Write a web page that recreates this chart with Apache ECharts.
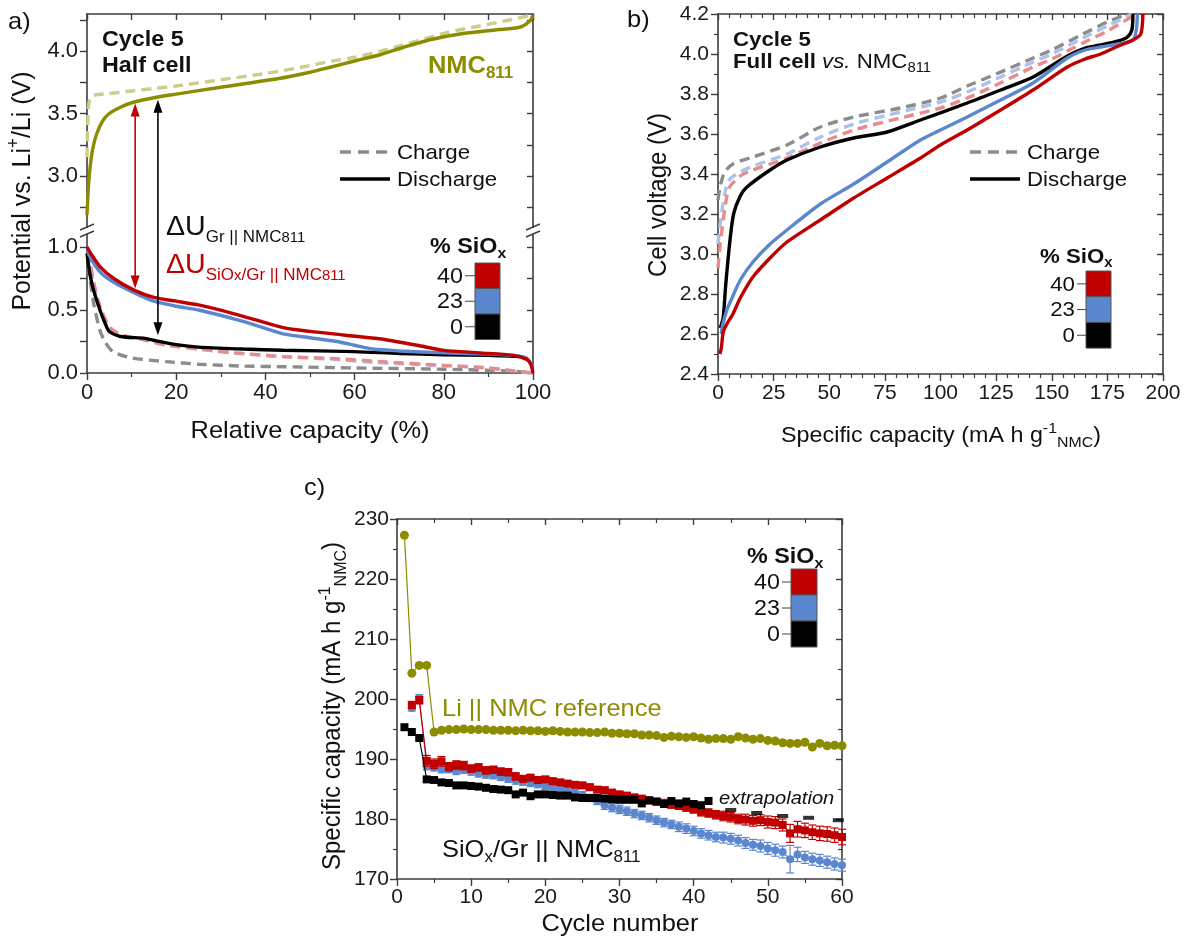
<!DOCTYPE html>
<html>
<head>
<meta charset="utf-8">
<script src="https://cdn.jsdelivr.net/npm/echarts@6.0.0/dist/echarts.min.js"></script>
<style>html,body{margin:0;padding:0;background:#fff}#main{width:1192px;height:942px}</style>
</head>
<body>
<div id="main"></div>
<script>
// ---- panel a: half cell potentials, x = relative capacity (%), y = V vs Li ----
const nmcChargeA = [[0,3.15],[0.3,3.55],[0.8,3.63],[2,3.65],[5,3.66],[10,3.68],[15,3.7],[20,3.72],[30,3.77],[40,3.82],[48,3.87],[55,3.92],[60,3.95],[66,4.0],[70,4.04],[76,4.1],[81,4.15],[88,4.2],[95,4.25],[100,4.29]];
const nmcDischargeA = [[0,2.69],[0.3,2.9],[0.7,3.07],[1.3,3.22],[2.2,3.34],[3.5,3.44],[5,3.5],[7.5,3.55],[10.4,3.59],[15.6,3.63],[20,3.655],[30,3.71],[43,3.78],[50,3.83],[54.5,3.87],[60,3.92],[65.7,3.97],[71,4.03],[76.9,4.09],[84.3,4.14],[91.9,4.17],[97,4.19],[99.3,4.24],[100,4.29]];
const grChargeA = [[0.3,0.85],[1.5,0.55],[2.9,0.34],[4,0.25],[5.8,0.17],[10,0.12],[17.9,0.09],[25,0.07],[35,0.055],[44,0.05],[60,0.04],[80,0.03],[95,0.015],[100,0]];
const sio23ChargeA = [[0.3,0.95],[1.5,0.7],[3,0.5],[4.5,0.38],[5.8,0.32],[8,0.29],[12,0.27],[17,0.24],[25,0.19],[33,0.16],[44,0.13],[55,0.11],[66,0.08],[80,0.06],[90,0.04],[96,0.015],[100,0]];
const sio40ChargeA = [[0.3,0.97],[1.5,0.72],[3,0.52],[4.5,0.4],[5.8,0.34],[8,0.3],[12,0.27],[17.9,0.22],[25,0.19],[33,0.16],[44,0.13],[55,0.115],[66,0.09],[80,0.06],[90,0.04],[96,0.015],[100,0]];
const grDischargeA = [[0,0.95],[0.5,0.82],[1.3,0.68],[2.9,0.5],[4,0.4],[5,0.33],[7.5,0.29],[13,0.275],[15.5,0.255],[20,0.225],[25,0.205],[35,0.19],[44,0.18],[60,0.17],[70,0.155],[80,0.145],[90,0.14],[97,0.13]];
const sio23DischargeA = [[0,0.98],[1,0.9],[3,0.8],[6,0.72],[10.4,0.64],[15,0.57],[20,0.53],[25,0.5],[35,0.41],[44,0.31],[50,0.28],[56,0.25],[60,0.22],[64,0.19],[70,0.175],[80,0.16],[90,0.15],[95.5,0.14],[98.5,0.12],[100,0.05]];
const sio40DischargeA = [[0,1.0],[1,0.94],[3,0.84],[6,0.75],[10.4,0.66],[15,0.6],[20,0.57],[25,0.54],[33,0.47],[44,0.36],[50,0.33],[58,0.3],[66,0.27],[74,0.22],[80,0.18],[88,0.16],[95.5,0.14],[98.5,0.11],[99.5,0.07],[100,0]];
// the two arrows (capacity %, top value in upper part, bottom value in lower part)
const arrowsA = [{x:10.8, top:3.58, bottom:0.67, color:'#c00000'}, {x:15.9, top:3.61, bottom:0.30, color:'#000000'}];
const upperTicksA = [2.75,3,3.25,3.5,3.75,4,4.25];
const upperLabelsA = [3,3.5,4];
const lowerTicksA = [0,0.25,0.5,0.75,1];
const lowerLabelsA = [0,0.5,1];

// ---- panel b: full cell, x = mA h g-1, y = cell voltage ----
const grChargeB = [[0,3.27],[1,3.34],[3,3.41],[6.7,3.45],[15.7,3.485],[31,3.545],[46,3.635],[61,3.685],[82,3.73],[100,3.78],[112,3.84],[125,3.9],[141.6,3.98],[150,4.02],[164,4.1],[175,4.16],[184,4.2]];
const sio23ChargeB = [[0,3.05],[1,3.15],[3,3.3],[5,3.37],[10,3.41],[15.7,3.44],[31,3.5],[46,3.585],[61,3.65],[82,3.71],[100,3.76],[112,3.81],[125,3.875],[141.6,3.96],[150,4.0],[164,4.08],[175,4.14],[186,4.2]];
const sio40ChargeB = [[0,2.93],[1,3.05],[3,3.22],[5,3.33],[10,3.39],[15.7,3.42],[31,3.48],[46,3.555],[61,3.62],[82,3.68],[100,3.73],[112,3.78],[125,3.845],[141.6,3.935],[150,3.975],[164,4.055],[175,4.115],[188,4.2]];
const grDischargeB = [[1,2.63],[2.3,2.68],[3.5,2.85],[5.4,3.07],[7,3.2],[10,3.29],[13,3.335],[23.4,3.42],[31,3.47],[46,3.535],[61,3.58],[76,3.61],[91,3.67],[112,3.755],[127,3.82],[141.6,3.885],[157,3.99],[165,4.03],[172,4.045],[180,4.065],[184,4.085],[186,4.12],[186.5,4.2]];
const sio23DischargeB = [[1.5,2.6],[2,2.64],[4,2.72],[6.7,2.79],[10,2.87],[15.7,2.96],[23.4,3.05],[31,3.12],[46,3.25],[61,3.35],[76,3.46],[82,3.505],[91,3.57],[100,3.62],[112,3.685],[127,3.77],[141.6,3.855],[157,3.98],[165,4.02],[172,4.035],[180,4.05],[186.5,4.07],[188,4.12],[188.5,4.2]];
const sio40DischargeB = [[0.8,2.5],[1.5,2.53],[2.2,2.6],[3,2.63],[4.5,2.66],[6.7,2.7],[10,2.78],[15.7,2.885],[23.4,2.98],[31,3.06],[46,3.17],[61,3.28],[76,3.38],[91,3.48],[100,3.545],[112,3.62],[127,3.72],[141.6,3.82],[157,3.935],[165,3.975],[172,4.0],[180,4.04],[186.5,4.07],[190,4.1],[191,4.2]];

// ---- panel c: specific capacity per cycle (index 0 = cycle 1) ----
const liRef = [227.3,204.3,205.6,205.6,194.5,194.8,194.9,194.9,195.0,194.9,194.9,194.9,194.8,194.8,194.8,194.7,194.8,194.7,194.7,194.6,194.7,194.6,194.5,194.5,194.5,194.4,194.4,194.5,194.3,194.3,194.2,194.2,194.0,194.0,193.9,193.6,193.8,193.7,193.6,193.7,193.5,193.3,193.4,193.4,193.3,193.7,193.5,193.3,193.4,193.1,193.0,192.7,192.6,192.6,192.8,192.0,192.6,192.2,192.3,192.2];
const sio0 = [195.3,194.5,193.5,186.6,186.5,186.1,186.0,185.6,185.6,185.5,185.4,185.2,185.0,184.9,184.8,184.1,184.4,183.8,184.1,184.1,184.0,183.9,183.9,183.6,183.5,183.5,183.5,183.4,183.3,183.2,183.2,183.2,182.6,183.1,182.9,182.5,183.0,182.6,182.9,182.5,182.3,183.0];
const sio0Extra = [[45,181.5],[48.5,181.0],[52,180.5],[55.5,180.2],[59.5,179.8]];
const sio40 = [null,199.0,199.8,189.7,189.2,189.6,188.7,189.0,188.9,188.4,188.6,188.1,188.2,187.9,187.8,187.1,186.7,186.9,186.5,186.6,186.3,186.1,185.9,185.7,185.6,185.3,184.9,184.8,184.4,184.1,183.9,183.6,183.4,183.1,182.9,182.7,182.4,182.2,181.9,181.6,181.2,181.0,180.7,180.5,180.3,180.0,179.9,179.7,179.8,179.5,179.4,179.0,177.6,178.3,178.1,177.8,177.6,177.5,177.3,177.0];
const sio40Err = [0,0.6,0.6,0.9,0.8,0.8,0.7,0.7,0.7,0.6,0.6,0.6,0.6,0.6,0.6,0.6,0.5,0.5,0.5,0.5,0.5,0.5,0.5,0.5,0.5,0.5,0.5,0.5,0.5,0.5,0.5,0.5,0.5,0.5,0.5,0.5,0.6,0.6,0.6,0.6,0.7,0.7,0.7,0.8,0.8,0.8,0.9,0.9,0.9,1.0,1.0,1.0,1.5,1.3,1.2,1.2,1.2,1.2,1.2,1.3];
const sio23 = [null,198.5,200.2,188.8,188.6,188.3,188.3,188.0,188.2,187.9,187.6,187.4,187.3,187.0,186.7,186.4,186.2,186.0,185.8,185.5,185.2,184.9,184.6,184.3,184.0,183.5,183.0,182.3,181.9,181.6,181.3,180.9,180.6,180.2,179.8,179.4,179.1,178.7,178.4,178.0,177.6,177.3,177.0,176.9,176.7,176.4,176.0,175.7,175.5,175.1,174.8,174.5,173.3,174.1,173.6,173.3,173.1,172.8,172.5,172.3];
const sio23Err = [0,0.5,0.5,0.6,0.6,0.6,0.6,0.6,0.6,0.6,0.6,0.6,0.6,0.6,0.6,0.6,0.6,0.6,0.6,0.6,0.6,0.6,0.6,0.6,0.6,0.6,0.6,0.7,0.7,0.7,0.7,0.7,0.7,0.7,0.7,0.7,0.7,0.8,0.8,0.8,0.8,0.8,0.8,0.9,0.9,0.9,0.9,0.9,1.0,1.0,1.0,1.0,2.3,1.2,1.0,1.0,1.0,1.0,1.0,1.0];

const siLevels = ['40', '23', '0'];

const RED = '#c00000', BLUE = '#5b87cf', BLACK = '#000000', OLIVE = '#8c8c00';
const RED_L = '#e98a8c', BLUE_L = '#a9c3ea', GREY_L = '#8c8c8c', OLIVE_L = '#cdcd8a';
const siColors = [RED, BLUE, BLACK];
const AXIS_C = '#3c3c3c';
const FONT = '"Liberation Sans", Arial, sans-serif';
const SX = 1.06;

const chart = echarts.init(document.getElementById('main'));

const xAxes = [], yAxes = [];
function axis(list, o) {
  const a = {
    type: 'value', gridIndex: o.grid, position: o.pos, min: o.min, max: o.max,
    axisLine: {show: true, onZero: false, lineStyle: {color: AXIS_C, width: 1.6}},
    axisTick: {show: true, inside: !!o.inside, length: o.inside ? 6 : 7, lineStyle: {color: AXIS_C, width: 1.4}},
    minorTick: {show: !!o.minor, splitNumber: o.minor || 2, length: 4, lineStyle: {color: AXIS_C, width: 1.2}},
    axisLabel: {show: !o.inside, fontSize: o.fs || 20, fontFamily: FONT, color: '#1a1a1a', margin: o.margin || 8,
      showMinLabel: true, showMaxLabel: true},
    splitLine: {show: false}
  };
  if (o.interval != null) a.interval = o.interval;
  if (o.ticks) a.axisTick.customValues = o.ticks;
  if (o.labels) a.axisLabel.customValues = o.labels;
  if (o.fmt) a.axisLabel.formatter = o.fmt;
  list.push(a);
  return list.length - 1;
}
const f1 = v => v.toFixed(1);

// panel a upper / lower
const xa0 = axis(xAxes, {grid: 0, pos: 'top', min: 0, max: 100, interval: 10, inside: true});
const ya0 = axis(yAxes, {grid: 0, pos: 'left', min: 2.56, max: 4.296, ticks: upperTicksA, labels: upperLabelsA, fs: 22, margin: 9, fmt: f1});
axis(yAxes, {grid: 0, pos: 'right', min: 2.56, max: 4.296, ticks: upperTicksA, inside: true});
const xa1 = axis(xAxes, {grid: 1, pos: 'bottom', min: 0, max: 100, interval: 20, minor: 2, fs: 22, margin: 9});
const ya1 = axis(yAxes, {grid: 1, pos: 'left', min: 0, max: 1.127, ticks: lowerTicksA, labels: lowerLabelsA, fs: 22, margin: 9, fmt: f1});
axis(yAxes, {grid: 1, pos: 'right', min: 0, max: 1.127, ticks: lowerTicksA, inside: true});
// panel b
const xb = axis(xAxes, {grid: 2, pos: 'bottom', min: 0, max: 200, interval: 25, minor: 5, fs: 21, margin: 9});
axis(xAxes, {grid: 2, pos: 'top', min: 0, max: 200, interval: 25, minor: 5, inside: true});
const yb = axis(yAxes, {grid: 2, pos: 'left', min: 2.4, max: 4.2, interval: 0.2, minor: 2, fs: 21, margin: 9, fmt: f1});
axis(yAxes, {grid: 2, pos: 'right', min: 2.4, max: 4.2, interval: 0.2, minor: 2, inside: true});
// panel c
const xc = axis(xAxes, {grid: 3, pos: 'bottom', min: 0, max: 60, interval: 10, minor: 2, fs: 21, margin: 8});
axis(xAxes, {grid: 3, pos: 'top', min: 0, max: 60, interval: 10, minor: 2, inside: true});
const yc = axis(yAxes, {grid: 3, pos: 'left', min: 170, max: 230, interval: 10, minor: 2, fs: 21, margin: 8});
axis(yAxes, {grid: 3, pos: 'right', min: 170, max: 230, interval: 10, minor: 2, inside: true});

function curve(data, color, xi, yi, dashed) {
  return {
    type: 'line', xAxisIndex: xi, yAxisIndex: yi, data: data, symbol: 'none', smooth: 0.25, silent: true,
    lineStyle: {color: color, width: 3.4, type: dashed ? [10, 6] : 'solid'}, z: dashed ? 2 : 3
  };
}
function points(vals, color, symbol, size, z) {
  return {
    type: 'line', xAxisIndex: xc, yAxisIndex: yc, data: vals.map((v, i) => [i + 1, v]),
    symbol: symbol, symbolSize: size, showSymbol: true, silent: true,
    lineStyle: {color: color, width: 1.2}, itemStyle: {color: color}, z: z
  };
}
function errorBars(vals, errs, color, z) {
  const data = [];
  vals.forEach((v, i) => { if (v != null) data.push([i + 1, v - errs[i], v + errs[i]]); });
  return {
    type: 'custom', xAxisIndex: xc, yAxisIndex: yc, data: data, silent: true, z: z,
    encode: {x: 0, y: [1, 2]},
    renderItem: function (params, api) {
      const lo = api.coord([api.value(0), api.value(1)]);
      const hi = api.coord([api.value(0), api.value(2)]);
      const st = {stroke: color, lineWidth: 1.2};
      return {type: 'group', children: [
        {type: 'line', shape: {x1: lo[0], y1: lo[1], x2: hi[0], y2: hi[1]}, style: st},
        {type: 'line', shape: {x1: lo[0] - 4, y1: lo[1], x2: lo[0] + 4, y2: lo[1]}, style: st},
        {type: 'line', shape: {x1: hi[0] - 4, y1: hi[1], x2: hi[0] + 4, y2: hi[1]}, style: st}
      ]};
    }
  };
}

const series = [
  curve(nmcChargeA, OLIVE_L, xa0, ya0, true),
  curve(nmcDischargeA, OLIVE, xa0, ya0, false),
  curve(grChargeA, GREY_L, xa1, ya1, true),
  curve(sio23ChargeA, BLUE_L, xa1, ya1, true),
  curve(sio40ChargeA, RED_L, xa1, ya1, true),
  curve(grDischargeA, BLACK, xa1, ya1, false),
  curve(sio23DischargeA, BLUE, xa1, ya1, false),
  curve(sio40DischargeA, RED, xa1, ya1, false),
  curve(grChargeB, GREY_L, xb, yb, true),
  curve(sio23ChargeB, BLUE_L, xb, yb, true),
  curve(sio40ChargeB, RED_L, xb, yb, true),
  curve(grDischargeB, BLACK, xb, yb, false),
  curve(sio23DischargeB, BLUE, xb, yb, false),
  curve(sio40DischargeB, RED, xb, yb, false),
  points(liRef, OLIVE, 'circle', 9, 3),
  errorBars(sio23, sio23Err, BLUE, 4),
  points(sio23, BLUE, 'circle', 8, 5),
  errorBars(sio40, sio40Err, RED, 6),
  points(sio40, RED, 'rect', 8, 7),
  points(sio0, BLACK, 'rect', 8, 8),
  {type: 'scatter', xAxisIndex: xc, yAxisIndex: yc, data: sio0Extra, symbol: 'rect', symbolSize: [11, 4],
    itemStyle: {color: BLACK}, silent: true, z: 8}
];

chart.setOption({
  animation: false,
  backgroundColor: '#ffffff',
  grid: [
    {left: 87, top: 14, width: 446, height: 217, outerBoundsMode: 'none'},
    {left: 87, top: 231, width: 446, height: 142, outerBoundsMode: 'none'},
    {left: 718, top: 14, width: 445, height: 360, outerBoundsMode: 'none'},
    {left: 397, top: 519, width: 445, height: 360, outerBoundsMode: 'none'}
  ],
  xAxis: xAxes,
  yAxis: yAxes,
  series: series
});

// ---- annotations ----
function rich(fs, color, subRatio) {
  const L = Math.round(fs * 1.3);
  const s = Math.round(fs * (subRatio || 0.68));
  const ss = Math.round(fs * 0.5);
  const base = {fontFamily: FONT, fill: color};
  return {
    n: Object.assign({}, base, {fontSize: fs, lineHeight: L}),
    b: Object.assign({}, base, {fontSize: fs, lineHeight: L, fontWeight: 'bold'}),
    i: Object.assign({}, base, {fontSize: fs, lineHeight: L, fontStyle: 'italic'}),
    sub: Object.assign({}, base, {fontSize: s, lineHeight: s, verticalAlign: 'bottom'}),
    bsub: Object.assign({}, base, {fontSize: s, lineHeight: s, verticalAlign: 'bottom', fontWeight: 'bold'}),
    ss: Object.assign({}, base, {fontSize: ss, lineHeight: ss, verticalAlign: 'bottom'}),
    sup: Object.assign({}, base, {fontSize: s, lineHeight: s, verticalAlign: 'top'})
  };
}
function txt(x, y, text, o) {
  o = o || {};
  const rot = o.rot || 0;
  return {
    type: 'text', x: x, y: y, rotation: rot, scaleX: rot ? 1 : SX, scaleY: rot ? SX : 1, z: 100, silent: true,
    style: {
      text: text, fill: o.color || '#111', fontSize: o.fs || 22, fontFamily: FONT,
      fontWeight: o.bold ? 'bold' : 'normal', fontStyle: o.italic ? 'italic' : 'normal',
      align: o.align || 'left', verticalAlign: 'middle', rich: o.rich
    }
  };
}
function seg(x1, y1, x2, y2, color, width, dash) {
  return {type: 'line', z: 100, silent: true, shape: {x1: x1, y1: y1, x2: x2, y2: y2},
    style: {stroke: color, lineWidth: width, lineDash: dash || null}};
}
function siLegend(o) {
  const els = [txt(o.tx, o.ty, '{b|% SiO}{bsub|x}', {rich: rich(o.tfs, '#111')})];
  siLevels.forEach((lab, k) => {
    const y0 = o.by + k * o.bh;
    els.push({type: 'rect', z: 100, silent: true, shape: {x: o.bx, y: y0, width: o.bw, height: o.bh},
      style: {fill: siColors[k], stroke: '#555', lineWidth: 1}});
    els.push(seg(o.lx + 2, y0 + o.bh / 2, o.bx, y0 + o.bh / 2, '#444', 1));
    els.push(txt(o.lx, y0 + o.bh / 2 + 1, lab, {fs: o.fs, align: 'right'}));
  });
  return els;
}
function breakMark(x, y) {
  return [
    {type: 'rect', z: 100, silent: true, shape: {x: x - 3, y: y - 3, width: 6, height: 6}, style: {fill: '#fff'}},
    seg(x - 7, y - 1, x + 7, y - 7, AXIS_C, 1.4),
    seg(x - 7, y + 6, x + 7, y, AXIS_C, 1.4)
  ];
}
function arrow(p1, p2, color) {
  const x = p1[0], hw = 4.5, hl = 13;
  return [
    seg(x, p1[1] + hl - 2, x, p2[1] - hl + 2, color, 1.6),
    {type: 'polygon', z: 100, silent: true, shape: {points: [[x, p1[1]], [x - hw, p1[1] + hl], [x + hw, p1[1] + hl]]}, style: {fill: color}},
    {type: 'polygon', z: 100, silent: true, shape: {points: [[x, p2[1]], [x - hw, p2[1] - hl], [x + hw, p2[1] - hl]]}, style: {fill: color}}
  ];
}

const g = [];
// panel labels
g.push(txt(8, 22, 'a)', {fs: 24}));
g.push(txt(627, 20, 'b)', {fs: 24}));
g.push(txt(304, 488, 'c)', {fs: 24}));

// panel a
g.push(txt(102, 40, 'Cycle 5', {fs: 22, bold: true}));
g.push(txt(102, 66, 'Half cell', {fs: 22, bold: true}));
g.push(txt(428, 66, '{b|NMC}{bsub|811}', {rich: rich(24, OLIVE)}));
g.push(txt(166, 228, '{n|ΔU}{sub|Gr || NMC}{ss|811}', {rich: rich(27, '#111', 0.58)}));
g.push(txt(166, 266, '{n|ΔU}{sub|SiO}{ss|x}{sub|/Gr || NMC}{ss|811}', {rich: rich(27, RED, 0.58)}));
g.push(seg(340, 152, 390, 152, GREY_L, 3.4, [11, 7]));
g.push(txt(397, 153, 'Charge', {fs: 21}));
g.push(seg(340, 179, 390, 179, BLACK, 3.4));
g.push(txt(397, 180, 'Discharge', {fs: 21}));
g.push.apply(g, siLegend({tx: 430, ty: 247, tfs: 22, bx: 475, by: 263, bw: 25, bh: 25.5, lx: 463, fs: 22}));
g.push(txt(23, 191, '{n|Potential vs. Li}{sup|+}{n|/Li (V)}', {rot: Math.PI / 2, align: 'center', rich: rich(25, '#111')}));
g.push(txt(310, 431, 'Relative capacity (%)', {fs: 24, align: 'center'}));
g.push.apply(g, breakMark(87, 231));
g.push.apply(g, breakMark(533, 231));
arrowsA.forEach(a => {
  const p1 = chart.convertToPixel({gridIndex: 0}, [a.x, a.top]);
  const p2 = chart.convertToPixel({gridIndex: 1}, [a.x, a.bottom]);
  g.push.apply(g, arrow(p1, p2, a.color));
});

// panel b
g.push(txt(733, 40, 'Cycle 5', {fs: 21, bold: true}));
g.push(txt(733, 62, '{b|Full cell }{i|vs.}{n| NMC}{sub|811}', {rich: rich(21, '#111')}));
g.push(seg(970, 152, 1020, 152, GREY_L, 3.4, [11, 7]));
g.push(txt(1027, 153, 'Charge', {fs: 21}));
g.push(seg(970, 179, 1020, 179, BLACK, 3.4));
g.push(txt(1027, 180, 'Discharge', {fs: 21}));
g.push.apply(g, siLegend({tx: 1040, ty: 257, tfs: 21, bx: 1086, by: 271, bw: 25, bh: 25.7, lx: 1075, fs: 21}));
g.push(txt(659, 195, 'Cell voltage (V)', {fs: 24, rot: Math.PI / 2, align: 'center'}));
g.push(txt(941, 436, '{n|Specific capacity (mA h g}{sup|-1}{sub|NMC}{n|)}', {align: 'center', rich: rich(22, '#111')}));

// panel c
g.push(txt(442, 709, 'Li || NMC reference', {fs: 24, color: OLIVE}));
g.push(txt(442, 850, '{n|SiO}{sub|x}{n|/Gr || NMC}{sub|811}', {rich: rich(24, '#111')}));
g.push(txt(719, 799, 'extrapolation', {fs: 19, italic: true}));
g.push.apply(g, siLegend({tx: 747, ty: 557, tfs: 22, bx: 791, by: 569, bw: 26, bh: 26, lx: 780, fs: 22}));
g.push(txt(333, 706, '{n|Specific capacity (mA h g}{sup|-1}{sub|NMC}{n|)}', {rot: Math.PI / 2, align: 'center', rich: rich(24, '#111')}));
g.push(txt(620, 924, 'Cycle number', {fs: 24, align: 'center'}));

chart.setOption({graphic: {elements: g}});
</script>
</body>
</html>
